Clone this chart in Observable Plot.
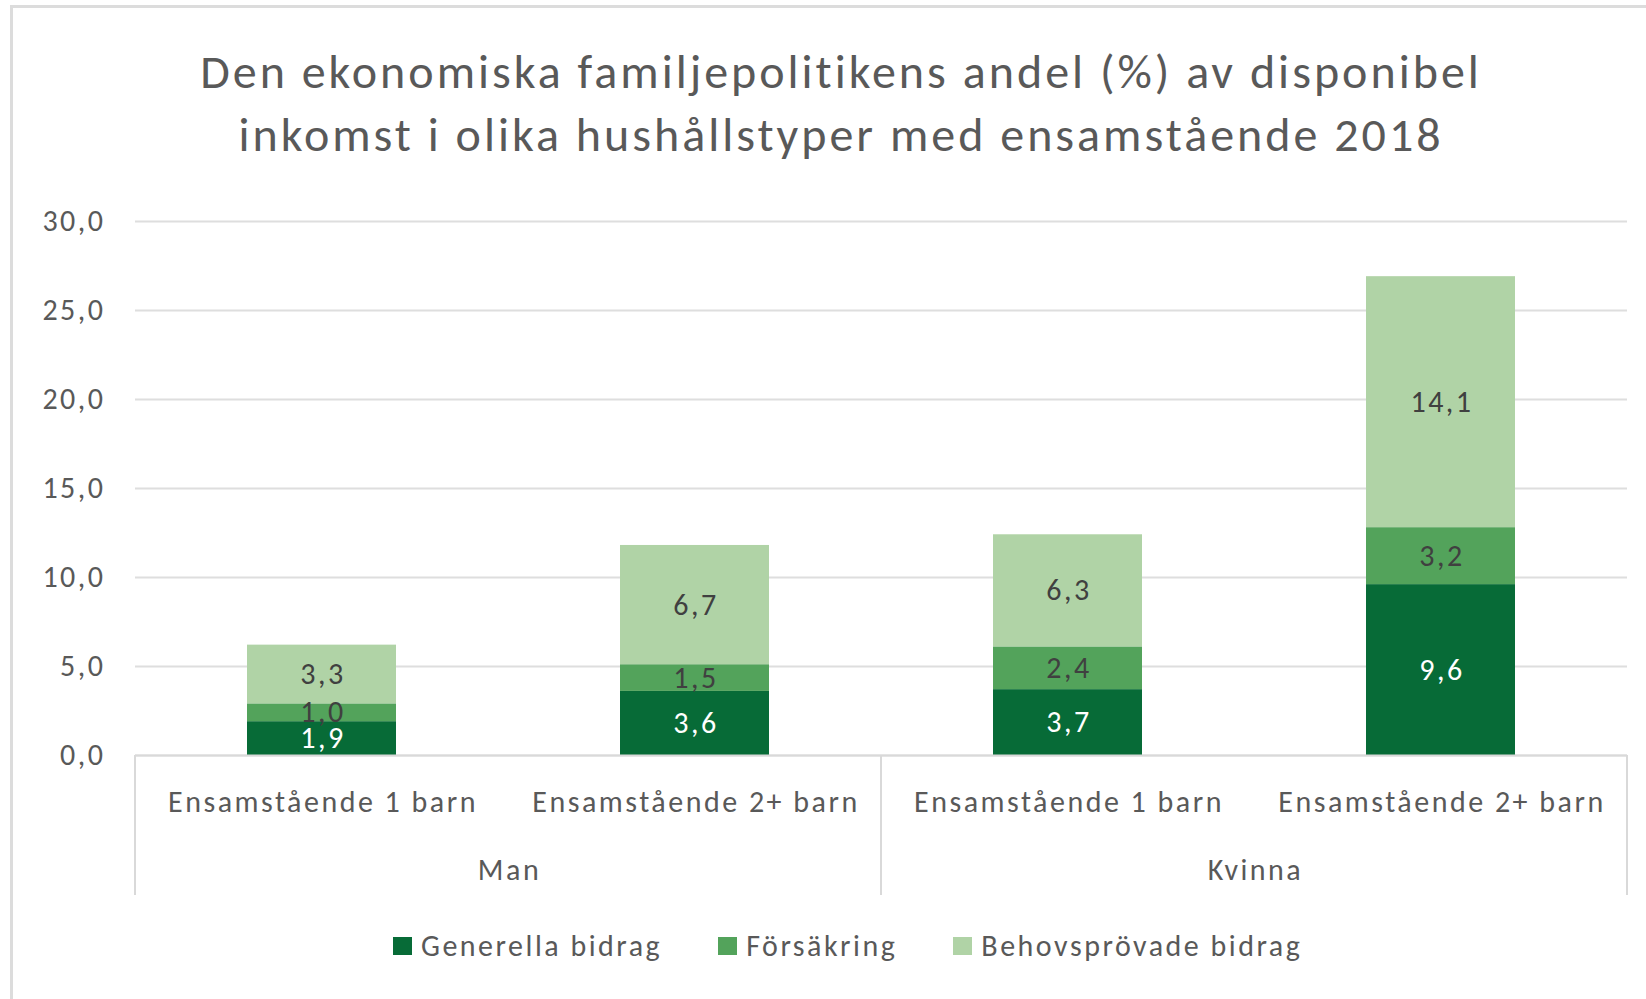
<!DOCTYPE html>
<html>
<head>
<meta charset="utf-8">
<script src="https://cdn.jsdelivr.net/npm/d3@7"></script>
<script src="https://cdn.jsdelivr.net/npm/@observablehq/plot@0.6"></script>
<style>
  html, body { margin: 0; padding: 0; background: #fff; width: 1646px; height: 999px; overflow: hidden; }
  body { position: relative; font-family: Calibri, Carlito, Lato, sans-serif; color: #595959; }
  #frame { position: absolute; left: 10px; top: 5px; width: 1700px; height: 1100px;
           border-left: 3px solid #dcdcdc; border-top: 3px solid #dcdcdc; box-sizing: border-box; }
  #title { position: absolute; left: 11px; width: 1660px; top: 40px; text-align: center;
           font-size: 48px; line-height: 63px; letter-spacing: 3px; color: #595959; }
  #chart { position: absolute; left: 0; top: 190px; }
  #chart svg text { letter-spacing: 2.5px; }
  #legend { position: absolute; left: 393px; top: 927px; display: flex; align-items: center;
            font-size: 30px; letter-spacing: 2.5px; color: #595959; }
  .item { display: flex; align-items: center; margin-right: 56px; }
  .sw { width: 19px; height: 18px; margin-right: 9px; }
</style>
</head>
<body>
<div id="frame"></div>
<div id="title">Den ekonomiska familjepolitikens andel (%) av disponibel<br>inkomst i olika hushållstyper med ensamstående 2018</div>
<div id="chart"></div>
<div id="legend"></div>
<script>
const genders = ["Man", "Kvinna"];
const types = ["Ensamstående 1 barn", "Ensamstående 2+ barn"];
const series = ["Generella bidrag", "Försäkring", "Behovsprövade bidrag"];
const generella = [1.9, 3.6, 3.7, 9.6];
const forsakring = [1.0, 1.5, 2.4, 3.2];
const behovsprovade = [3.3, 6.7, 6.3, 14.1];
const yTicks = [0, 5, 10, 15, 20, 25, 30];
const colors = ["#076B37", "#53A35B", "#B0D3A6"];
const labelColors = ["#ffffff", "#404040", "#404040"];

const FONT = "Calibri, Carlito, Lato, sans-serif";
const fmt = v => v.toFixed(1).replace(".", ",");

const seriesValues = [generella, forsakring, behovsprovade];
const rows = [];
seriesValues.forEach((vals, s) => {
  vals.forEach((v, i) => {
    rows.push({gender: genders[Math.floor(i / 2)], type: types[i % 2], series: series[s], si: s, value: v});
  });
});

const chart = Plot.plot({
  width: 1646,
  height: 720,
  marginLeft: 134,
  marginRight: 19,
  marginTop: 31,
  marginBottom: 155,
  style: {fontFamily: FONT, fontSize: "30px", color: "#595959", background: "transparent"},
  fx: {domain: genders, padding: 0, axis: null, label: null},
  x: {domain: types, paddingInner: 0.6, paddingOuter: 0.3, axis: null, label: null},
  y: {domain: [0, 30], axis: null},
  color: {domain: series, range: colors},
  marks: [
    Plot.gridY(yTicks, {stroke: "#dedede", strokeOpacity: 1, strokeWidth: 2}),
    Plot.axisY(yTicks, {tickSize: 0, tickPadding: 30, tickFormat: fmt, fontSize: 30, fill: "#595959", label: null}),
    Plot.barY(rows, {fx: "gender", x: "type", y: "value", fill: "series"}),
    Plot.ruleY([0], {stroke: "#d9d9d9", strokeWidth: 2}),
    Plot.text(rows, Plot.stackY({fx: "gender", x: "type", y: "value", text: d => fmt(d.value),
      fill: d => labelColors[d.si], fontSize: 30, dx: 1})),
    Plot.axisX({anchor: "bottom", tickSize: 0, tickPadding: 35, fontSize: 30, fill: "#595959", label: null, dx: 1}),
    Plot.axisFx({anchor: "bottom", tickSize: 0, tickPadding: 103, fontSize: 30, fill: "#595959", label: null, dx: 1})
  ]
});

// group separators from the library's scales
const fxs = chart.scale("fx");
const ys = chart.scale("y");
const y0 = ys.apply(0);
const bounds = genders.map(g => fxs.apply(g)).concat([fxs.apply(genders[genders.length - 1]) + fxs.bandwidth]);
d3.select(chart).append("g")
  .selectAll("line").data(bounds).join("line")
  .attr("x1", d => d).attr("x2", d => d)
  .attr("y1", y0).attr("y2", y0 + 140)
  .attr("stroke", "#d9d9d9").attr("stroke-width", 2);

document.getElementById("chart").appendChild(chart);

const legend = d3.select("#legend");
series.forEach((s, i) => {
  const item = legend.append("div").attr("class", "item");
  item.append("div").attr("class", "sw").style("background", colors[i]);
  item.append("span").text(s);
});
</script>
</body>
</html>
